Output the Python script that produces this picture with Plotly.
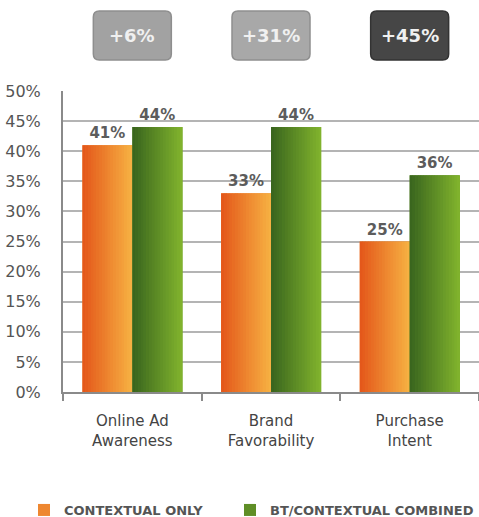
import plotly.graph_objects as go

# Survey results by metric
categories = ["Online Ad<br>Awareness", "Brand<br>Favorability", "Purchase<br>Intent"]
contextual_only = [41, 33, 25]
bt_contextual = [44, 44, 36]
lift_labels = ["+6%", "+31%", "+45%"]
lift_box_colors = ["#a2a2a2", "#a8a8a8", "#464646"]
y_ticks = [0, 5, 10, 15, 20, 25, 30, 35, 40, 45, 50]

W, H = 479, 517
M_L, M_R, M_T, M_B = 63, 0, 91, 125
PW = W - M_L - M_R
PH = H - M_T - M_B

FONT = "DejaVu Sans, Verdana, sans-serif"


def blend(c0, c1, t):
    a = [int(c0[i:i + 2], 16) for i in (1, 3, 5)]
    b = [int(c1[i:i + 2], 16) for i in (1, 3, 5)]
    return "#" + "".join(f"{round(x + (y - x) * t):02x}" for x, y in zip(a, b))


N_STRIPS = 18
orange_stops = [blend("#e4581b", "#f6b042", k / (N_STRIPS - 1)) for k in range(N_STRIPS)]
green_stops = [blend("#3a661e", "#80b22d", k / (N_STRIPS - 1)) for k in range(N_STRIPS)]

bar_w = 0.36

fig = go.Figure()


def add_series(name, values, stops, offset, legend_id):
    # base bar carries legend entry and value label
    fig.add_trace(go.Bar(
        x=categories, y=values, name=f"<b>{name}</b>",
        marker=dict(color=stops[len(stops) // 2], line=dict(width=0)),
        width=bar_w, offset=offset, legend=legend_id,
        text=[f"<b>{v}%</b>" for v in values], textposition="outside",
        textfont=dict(family=FONT, size=15, color="#5c5c5c"),
        cliponaxis=False, hoverinfo="skip",
    ))
    sw = bar_w / len(stops)
    for k, c in enumerate(stops):
        fig.add_trace(go.Bar(
            x=categories, y=values, showlegend=False,
            marker=dict(color=c, line=dict(width=0)),
            width=sw * 1.15, offset=offset + k * sw,
            hoverinfo="skip",
        ))


add_series("CONTEXTUAL ONLY", contextual_only, orange_stops, -bar_w, "legend")
add_series("BT/CONTEXTUAL COMBINED", bt_contextual, green_stops, 0.0, "legend2")


def px(x):
    return (x - M_L) / PW


def py(y):
    return (M_T + PH - y) / PH


# Lift badges above each category
shapes = []
annotations = []
box_half_w = 39
box_top, box_bot = 11, 60
r = 6
for i, (lab, col) in enumerate(zip(lift_labels, lift_box_colors)):
    cx = M_L + (i + 0.5) * PW / 3
    x0, x1 = cx - box_half_w, cx + box_half_w
    y0, y1 = box_top, box_bot
    path = (
        f"M{px(x0 + r)},{py(y0)} L{px(x1 - r)},{py(y0)} "
        f"Q{px(x1)},{py(y0)} {px(x1)},{py(y0 + r)} "
        f"L{px(x1)},{py(y1 - r)} Q{px(x1)},{py(y1)} {px(x1 - r)},{py(y1)} "
        f"L{px(x0 + r)},{py(y1)} Q{px(x0)},{py(y1)} {px(x0)},{py(y1 - r)} "
        f"L{px(x0)},{py(y0 + r)} Q{px(x0)},{py(y0)} {px(x0 + r)},{py(y0)} Z"
    )
    border = "#8e8e8e" if i < 2 else "#333333"
    shapes.append(dict(type="path", path=path, xref="paper", yref="paper",
                       fillcolor=col, line=dict(color=border, width=1.5), layer="above"))
    annotations.append(dict(x=px(cx), y=py((y0 + y1) / 2), xref="paper", yref="paper",
                            text=f"<b>{lab}</b>", showarrow=False,
                            font=dict(family=FONT, size=18, color="#f0f0f0"),
                            xanchor="center", yanchor="middle"))

legend_font = dict(family=FONT, size=13, color="#555555")
fig.update_layout(
    width=W, height=H,
    margin=dict(l=M_L, r=M_R, t=M_T, b=M_B, autoexpand=False),
    paper_bgcolor="white", plot_bgcolor="white",
    barmode="overlay",
    shapes=shapes, annotations=annotations,
    showlegend=True,
    legend=dict(orientation="h", x=px(24), xanchor="left", y=py(510), yanchor="middle",
                font=legend_font, itemwidth=30, bgcolor="rgba(0,0,0,0)"),
    legend2=dict(orientation="h", x=px(230), xanchor="left", y=py(510), yanchor="middle",
                 font=legend_font, itemwidth=30, bgcolor="rgba(0,0,0,0)"),
    font=dict(family=FONT),
)
fig.update_xaxes(
    type="category", range=[-0.5, 2.5], tickson="boundaries",
    ticks="outside", ticklen=7, tickcolor="#8a8a8a", tickwidth=2,
    showline=True, linecolor="#8a8a8a", linewidth=2,
    tickfont=dict(family=FONT, size=15, color="#444444"),
    ticklabelstandoff=14,
    showgrid=False,
)
fig.update_yaxes(
    range=[0, 50], tickvals=y_ticks, ticktext=[f"{v}%" for v in y_ticks],
    showgrid=True, gridcolor="#b4b4b4", gridwidth=2,
    showline=True, linecolor="#8a8a8a", linewidth=2,
    tickfont=dict(family=FONT, size=16, color="#555555"),
    ticklabelstandoff=17,
    ticks="", zeroline=False,
)

fig.write_html("out.html")
